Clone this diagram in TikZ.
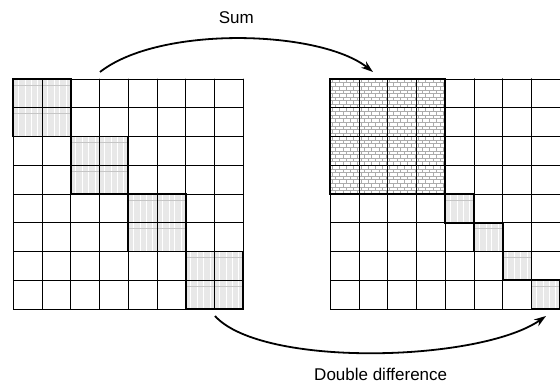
\documentclass[tikz,border=0pt]{standalone}
\usepackage{fontspec}
\setmainfont{Liberation Sans}
\usetikzlibrary{arrows.meta}
\def\cw{28.75}
\newcommand\shadecell[2]{%
  \pgfmathsetmacro\cx{#1}\pgfmathsetmacro\cy{#2}%
  \fill[gray!18] (\cx,\cy) rectangle ++(\cw,\cw);
  \foreach \f in {0.18,0.42,0.62,0.85}
    \draw[white,line width=1pt] ({\cx+\f*\cw},\cy) -- ++(0,\cw);
  \draw[gray!45,line width=0.4pt] (\cx,{\cy+0.2*\cw}) -- ++(\cw,0);
}
\newcommand\brickcell[2]{%
  \pgfmathsetmacro\bx{#1}\pgfmathsetmacro\by{#2}%
  \foreach \r in {1,...,7}
    \draw[brick] (\bx,{\by+\r*\cw/8}) -- ++(\cw,0);
  \foreach \r in {0,...,7}{%
    \pgfmathsetmacro\off{mod(\r,2)*\cw/8}
    \foreach \k in {0,1,2,3}
      \draw[brick] ({\bx+\off+\k*\cw/4+\cw/16},{\by+\r*\cw/8}) -- ++(0,\cw/8);
  }
}
\begin{document}
\begin{tikzpicture}[x=1pt,y=-1pt,
  gridline/.style={line width=0.8pt},
  blk/.style={line width=1.8pt},
  brick/.style={gray!65,line width=0.4pt},
  arr/.style={line width=1.8pt,-{Stealth[length=12pt,width=8pt]}},
  lbl/.style={font=\fontsize{17}{20}\selectfont,inner sep=0pt}]
\useasboundingbox (0,0) rectangle (560,387);
% ---------- left matrix ----------
\begin{scope}[shift={(13.3,79)}]
  \foreach \b in {0,1,2,3}
    \foreach \i in {0,1}
      \foreach \j in {0,1}
        \shadecell{(2*\b+\i)*\cw}{(2*\b+\j)*\cw}
  \foreach \k in {0,...,8}{
    \draw[gridline] ({\k*\cw},0) -- ({\k*\cw},{8*\cw});
    \draw[gridline] (0,{\k*\cw}) -- ({8*\cw},{\k*\cw});
  }
  \foreach \b in {0,1,2,3}
    \draw[blk] ({2*\b*\cw},{2*\b*\cw}) rectangle ++({2*\cw},{2*\cw});
\end{scope}
% ---------- right matrix ----------
\begin{scope}[shift={(330.3,79)}]
  \foreach \i in {0,...,3}
    \foreach \j in {0,...,3}
      \brickcell{\i*\cw}{\j*\cw}
  \foreach \b in {4,...,7}
    \shadecell{\b*\cw}{\b*\cw}
  \foreach \k in {0,...,8}{
    \draw[gridline] ({\k*\cw},0) -- ({\k*\cw},{8*\cw});
    \draw[gridline] (0,{\k*\cw}) -- ({8*\cw},{\k*\cw});
  }
  \draw[blk] (0,0) rectangle ++({4*\cw},{4*\cw});
  \foreach \b in {4,...,7}
    \draw[blk] ({\b*\cw},{\b*\cw}) rectangle ++(\cw,\cw);
\end{scope}
% ---------- arrows ----------
\coordinate (s1) at (100,72);
\coordinate (s2) at (373,72);
\coordinate (d1) at (215,316);
\coordinate (d2) at (546,316);
\draw[arr] (s1) .. controls (160,25) and (320,30) .. (s2);
\draw[arr] (d1) .. controls (262,368) and (480,362) .. (d2);
\node[lbl,anchor=base] (sum) at (236.3,23.3) {Sum};
\node[lbl,anchor=base] (dd) at (380.7,380.7) {Double difference};
\end{tikzpicture}
\end{document}
